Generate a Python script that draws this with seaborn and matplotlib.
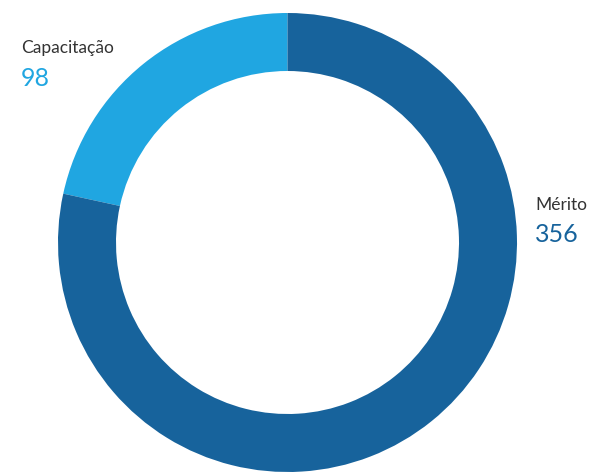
import matplotlib
matplotlib.use("Agg")
import matplotlib.pyplot as plt
import seaborn as sns

sns.set_theme(style="white")
plt.rcParams['font.family'] = ['Lato', 'DejaVu Sans']

# data
categories = ['Capacitação', 'Mérito']
values = [98, 356]
colors = ['#20a6e1', '#17639c']

fig = plt.figure(figsize=(5.9, 4.75), dpi=100)
ax = fig.add_axes([58 / 590, 3 / 475, 459 / 590, 459 / 475])

ax.pie(values, colors=colors, startangle=90, counterclock=True, radius=1,
       wedgeprops=dict(width=58 / 229.5, linewidth=0))
ax.set_xlim(-1, 1)
ax.set_ylim(-1, 1)
ax.set_aspect('equal')
ax.axis('off')

# labels
label_pos = [(21, 48), (535, 205)]
for (x, y), cat, val, col in zip(label_pos, categories, values, colors):
    fig.text(x / 590, 1 - y / 475, cat, fontsize=12.5, color='#333333',
             ha='left', va='center')
    fig.text(x / 590, 1 - (y + 30) / 475, str(val), fontsize=18, color=col,
             ha='left', va='center')

fig.savefig('out.png', dpi=100)
